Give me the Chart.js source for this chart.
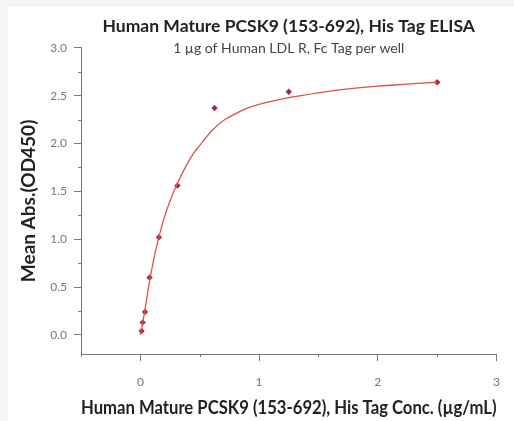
<!DOCTYPE html>
<html>
<head>
<meta charset="utf-8">
<script src="https://cdn.jsdelivr.net/npm/chart.js@4"></script>
<style>
  html, body { margin: 0; padding: 0; background: #f5f5f5; }
  .paper { position: absolute; left: 8px; top: 7px; right: 0; bottom: 0; background: #fff; }
  .wrap { position: absolute; left: 0; top: 0; width: 514px; height: 421px; }
</style>
</head>
<body>
<div class="paper"></div>
<div class="wrap"><canvas id="chart" width="514" height="421"></canvas></div>
<script>
// Measured points (µg/mL vs OD450)
const concentrations = [0.0098, 0.0195, 0.039, 0.078, 0.156, 0.3125, 0.625, 1.25, 2.5];
const meanAbs = [0.04, 0.13, 0.24, 0.60, 1.02, 1.56, 2.37, 2.54, 2.64];

// Fitted curve
const curveX = [0, 0.01, 0.02, 0.03, 0.04, 0.06, 0.08, 0.1, 0.12, 0.14, 0.16, 0.2, 0.25, 0.3, 0.35, 0.4, 0.45, 0.5, 0.6, 0.7, 0.8, 0.9, 1.0, 1.25, 1.5, 1.75, 2.0, 2.25, 2.5];
const curveY = [0.0, 0.06, 0.13, 0.20, 0.27, 0.43, 0.58, 0.71, 0.83, 0.94, 1.04, 1.22, 1.40, 1.55, 1.68, 1.80, 1.90, 1.98, 2.13, 2.24, 2.31, 2.37, 2.41, 2.48, 2.53, 2.57, 2.60, 2.62, 2.64];

const titleText = 'Human Mature PCSK9 (153-692), His Tag ELISA';
const subtitleText = '1 µg of Human LDL R, Fc Tag per well';
const xTitle = 'Human Mature PCSK9 (153-692), His Tag Conc. (µg/mL)';
const yTitle = 'Mean Abs.(OD450)';

const font = "Lato, 'Open Sans', sans-serif";
const axisColor = '#777';
const labelColor = '#777';

// Short ticks for unlabelled steps, long ones for labelled steps
const minorTicks = {
  id: 'minorTicks',
  afterDraw(chart) {
    const { ctx } = chart;
    ctx.save();
    ctx.strokeStyle = axisColor;
    ctx.lineWidth = 1;
    ['x', 'y'].forEach((id) => {
      const scale = chart.scales[id];
      scale.ticks.forEach((t) => {
        if (t.label !== '') return;
        const p = Math.round(scale.getPixelForValue(t.value)) + 0.5;
        ctx.beginPath();
        if (id === 'x') {
          ctx.moveTo(p, scale.top);
          ctx.lineTo(p, scale.top + 3);
        } else {
          ctx.moveTo(scale.right, p);
          ctx.lineTo(scale.right - 3, p);
        }
        ctx.stroke();
      });
    });
    ctx.restore();
  },
};

const tickColor = (c) => (c.tick && c.tick.label === '' ? 'rgba(0,0,0,0)' : axisColor);

const ctx = document.getElementById('chart');

new Chart(ctx, {
  type: 'scatter',
  data: {
    datasets: [
      {
        label: 'fit',
        type: 'line',
        data: curveX.map((x, i) => ({ x, y: curveY[i] })),
        borderColor: '#d9534f',
        borderWidth: 1.3,
        pointRadius: 0,
        cubicInterpolationMode: 'monotone',
        fill: false,
      },
      {
        label: 'data',
        data: concentrations.map((x, i) => ({ x, y: meanAbs[i] })),
        pointStyle: 'rectRot',
        pointRadius: 3.2,
        backgroundColor: '#a8283a',
        borderColor: '#a8283a',
        borderWidth: 0,
      },
    ],
  },
  plugins: [minorTicks],
  options: {
    responsive: false,
    animation: false,
    layout: { padding: { left: 17, right: 17, top: 10, bottom: 2 } },
    plugins: {
      legend: { display: false },
      tooltip: { enabled: false },
      title: {
        display: true,
        text: titleText,
        fullSize: false,
        color: '#222',
        font: { family: font, size: 17.5, weight: 'bold' },
        padding: { top: 6, bottom: 2 },
      },
      subtitle: {
        display: true,
        text: subtitleText,
        fullSize: false,
        color: '#444',
        font: { family: font, size: 14 },
        padding: { top: 1, bottom: -9 },
      },
    },
    scales: {
      x: {
        type: 'linear',
        min: -0.5,
        max: 3,
        afterFit: (scale) => { scale.height = 65; },
        ticks: {
          stepSize: 0.5,
          color: labelColor,
          font: { family: font, size: 12 },
          padding: 14,
          callback: (v) => (Number.isInteger(v) && v >= 0 ? v : ''),
        },
        grid: { drawOnChartArea: false, tickLength: 7, tickColor },
        border: { color: axisColor, width: 1 },
        title: {
          display: true,
          text: xTitle,
          color: '#222',
          font: { family: font, size: 19, weight: 'bold' },
          padding: { top: 0, bottom: 0 },
        },
      },
      y: {
        type: 'linear',
        min: -0.2,
        max: 3,
        afterFit: (scale) => { scale.width = 64; },
        afterBuildTicks: (scale) => {
          scale.ticks = scale.ticks.filter((t) => t.value > -0.01);
        },
        ticks: {
          stepSize: 0.25,
          color: labelColor,
          font: { family: font, size: 12 },
          padding: 7,
          callback: (v) => (Math.abs(v * 2 - Math.round(v * 2)) < 0.001 ? v.toFixed(1) : ''),
        },
        grid: { drawOnChartArea: false, tickLength: 7, tickColor },
        border: { color: axisColor, width: 1 },
        title: {
          display: true,
          text: yTitle,
          color: '#222',
          font: { family: font, size: 19, weight: 'bold' },
          padding: { top: 0, bottom: 0 },
        },
      },
    },
  },
});
</script>
</body>
</html>
